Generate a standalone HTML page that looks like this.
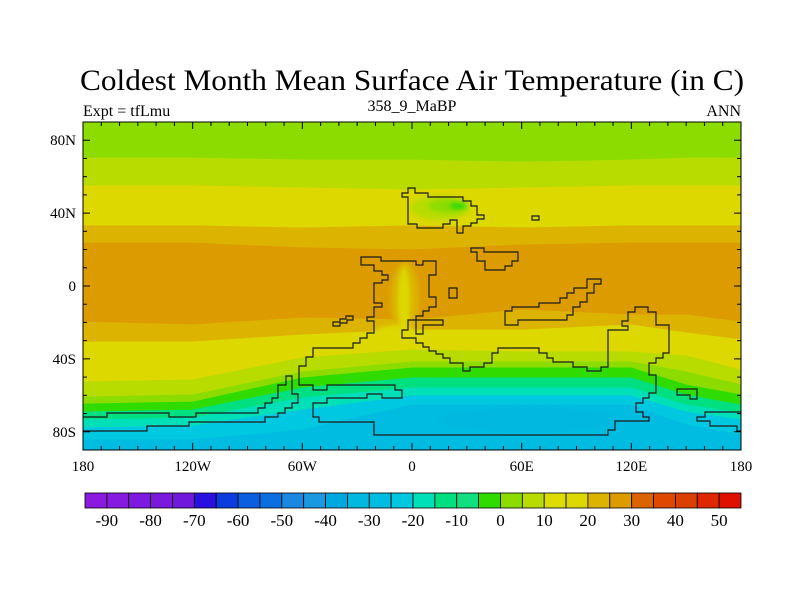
<!DOCTYPE html>
<html><head><meta charset="utf-8"><style>
html,body{margin:0;padding:0;background:#fff;}
svg{display:block;font-family:"Liberation Serif",serif;}
</style></head><body>
<svg id="chart" width="800" height="600" viewBox="0 0 800 600" xmlns="http://www.w3.org/2000/svg">
<defs>
<clipPath id="plotclip"><rect x="83" y="122" width="658" height="328"/></clipPath>
<filter id="soft" x="-20%" y="-20%" width="140%" height="140%"><feGaussianBlur stdDeviation="2"/></filter>
</defs>
<text x="412" y="90" font-size="30" text-anchor="middle" textLength="664" lengthAdjust="spacingAndGlyphs">Coldest Month Mean Surface Air Temperature (in C)</text>
<text x="83" y="116" font-size="16">Expt = tfLmu</text>
<text x="412" y="111" font-size="16" text-anchor="middle">358_9_MaBP</text>
<text x="741" y="116" font-size="16" text-anchor="end">ANN</text>
<g id="field" clip-path="url(#plotclip)"></g>
<g id="land" clip-path="url(#plotclip)"></g>
<rect x="83" y="122" width="658" height="328" fill="none" stroke="#000" stroke-width="1"/>
<g id="axes"></g>
<g id="cbar"></g>
</svg>
<script>
// ---- data ----
const anchorLons = [-180,-120,-60,0,60,120,150,180];
const bandColors = ['#8cdc00','#b8dc00','#dcd800','#dcb400','#dc9c00','#dcb400','#dcd800','#b8dc00','#8cdc00','#30dc00','#00e080','#00e0b8','#00c8e0','#00bce0'];
const boundaryLats = [
 [70.2,70.2,69.1,69.1,68,69.1,70.2,70.2],
 [54.9,54.9,53.8,52.7,53.8,54.9,54.9,54.9],
 [33,33,31.8,33,31.8,33,33,33],
 [23.5,23.5,20.9,19.8,22.5,23.5,23.5,23.5],
 [-19.8,-21.4,-17.6,-18.7,-13.2,-15.9,-15.9,-19.8],
 [-30.7,-30.7,-26.9,-24.2,-24.2,-21.4,-25.8,-29.6],
 [-52.7,-51.6,-39.5,-35.1,-36.2,-36.2,-38.4,-46.1],
 [-61,-59.8,-47.2,-41.7,-41.7,-41.7,-47.2,-54.3],
 [-64.8,-63.7,-50.5,-45,-45,-45,-54.3,-59.8],
 [-69.2,-68.1,-56,-50.5,-50.5,-50.5,-59.8,-65.4],
 [-73.5,-72.5,-61.5,-56,-56,-56,-65.4,-69.8],
 [-77.9,-76.8,-68.1,-60.4,-60.4,-60.4,-69.2,-73.5],
 [-84.5,-84.5,-79,-65.4,-65.4,-65.4,-76.3,-81.8]
];
const cbarLevels = [-95,-90,-85,-80,-75,-70,-65,-60,-55,-50,-45,-40,-35,-30,-25,-20,-15,-10,-5,0,5,10,15,20,25,30,35,40,45,50,55];
const cbarColors = ['#8a1ae0','#861ae0','#7d1ae0','#7a18dc','#7018dc','#2a10e0','#0a3ce0','#0a5ee0','#0a70e0','#1a88e0','#1a98e0','#00a8e0','#00b8e0','#00bce0','#00c8e0','#00e0b8','#00e080','#10e080','#30dc00','#8cdc00','#b8dc00','#dcdc00','#dcd800','#dcb400','#dc9c00','#dc6400','#e04800','#dc4000','#e02800','#e01000'];
const cbarLabels = [-90,-80,-70,-60,-50,-40,-30,-20,-10,0,10,20,30,40,50];
const xTickLabels = ['180','120W','60W','0','60E','120E','180'];
const yTickLats = [80,40,0,-40,-80];
const yTickLabels = ['80N','40N','0','40S','80S'];

// ---- axis functions ----
const X0=83,X1=741,Y0=122,Y1=450;
const xOf = lon => X0 + (lon+180)/360*(X1-X0);
const yOf = lat => Y0 + (90-lat)/180*(Y1-Y0);
const NS='http://www.w3.org/2000/svg';
function mk(tag, attrs, parent){const e=document.createElementNS(NS,tag);for(const k in attrs)e.setAttribute(k,attrs[k]);parent.appendChild(e);return e;}

// ---- field bands ----
const field=document.getElementById('field');
for(let i=0;i<bandColors.length;i++){
  const top = i===0 ? anchorLons.map(()=>90) : boundaryLats[i-1];
  const bot = i===bandColors.length-1 ? anchorLons.map(()=>-90) : boundaryLats[i];
  let pts=[];
  anchorLons.forEach((lo,j)=>pts.push(xOf(lo)+','+yOf(top[j])));
  for(let j=anchorLons.length-1;j>=0;j--) pts.push(xOf(anchorLons[j])+','+yOf(bot[j]));
  const p=mk('polygon',{points:pts.join(' '),fill:bandColors[i],stroke:bandColors[i],'stroke-width':1},field);
  
  
}
// local features (smoothed)
const blobs=mk('g',{filter:'url(#soft)'},field);


mk('ellipse',{cx:440,cy:208,rx:30,ry:12,fill:'#b8dc00'},blobs);
mk('ellipse',{cx:448,cy:206,rx:20,ry:7,fill:'#8cdc00'},blobs);
mk('ellipse',{cx:458,cy:206,rx:9,ry:4,fill:'#30dc00'},blobs);
mk('ellipse',{cx:405,cy:300,rx:14,ry:38,fill:'#dcb400'},blobs);
mk('ellipse',{cx:404,cy:300,rx:6,ry:33,fill:'#dcd800'},blobs);
mk('ellipse',{cx:395,cy:335,rx:22,ry:10,fill:'#dcd800'},blobs);
mk('ellipse',{cx:530,cy:420,rx:90,ry:12,fill:'#00b8e0'},blobs);

// ---- coastlines ----
const land=document.getElementById('land');
const coasts=[
 "402,193 408,193 408,188 415,188 415,193 428,193 428,197 463,197 463,201 471,201 471,206 477,206 477,215 484,215 484,219 477,219 477,223 471,223 471,226 463,226 463,233 457,233 457,220 450,220 450,224 443,224 443,228 417,228 417,224 408,224 408,197 402,197",
 "532,216 539,216 539,220 532,220",
 "471,248 484,248 484,252 518,252 518,261 512,261 512,266 505,266 505,270 485,270 485,261 477,261 477,252 471,252",
 "449,288 457,288 457,298 449,298",
 "361,257 381,257 381,261 416,261 416,265 423,265 423,261 436,261 436,275 429,275 429,297 436,297 436,307 429,307 429,311 423,311 423,316 416,316 416,320 408,320 408,330 402,330 402,338 416,338 416,343 423,343 423,347 429,347 429,351 436,351 436,354 443,354 443,358 450,358 450,363 463,363 463,371 470,371 470,367 484,367 484,363 492,363 492,353 498,353 498,348 539,348 539,353 547,353 547,358 553,358 553,362 573,362 573,367 587,367 587,371 601,371 601,367 608,367 608,330 628,330 628,326 622,326 622,321 628,321 628,312 635,312 635,307 648,307 648,312 656,312 656,325 669,325 669,353 663,353 663,358 656,358 656,363 649,363 649,375 656,375 656,393 649,393 649,398 643,398 643,403 636,403 636,412 643,412 643,417 649,417 649,421 615,421 615,430 608,430 608,435 374,435 374,422 319,422 319,417 313,417 313,403 327,403 327,398 367,398 367,394 382,394 382,398 402,398 402,390 395,390 395,385 327,385 327,390 313,390 313,385 299,385 299,366 306,366 306,357 313,357 313,348 353,348 353,343 360,343 360,338 367,338 367,333 374,333 374,321 367,321 367,317 374,317 374,307 382,307 382,303 374,303 374,283 382,283 382,280 388,280 388,275 382,275 382,271 374,271 374,265 361,265",
 "416,320 443,320 443,325 423,325 423,334 416,334",
 "505,311 512,311 512,307 539,307 539,303 560,303 560,298 567,298 567,293 574,293 574,288 587,288 587,279 601,279 601,284 594,284 594,293 587,293 587,302 580,302 580,307 573,307 573,315 567,315 567,320 518,320 518,325 505,325",
 "333,326 333,322 340,322 340,319 346,319 346,316 353,316 353,320 347,320 347,323 340,323 340,326",
 "80,417 107,417 107,413 169,413 169,417 196,417 196,413 258,413 258,408 265,408 265,403 272,403 272,398 278,398 278,385 286,385 286,376 292,376 292,394 298,394 298,403 292,403 292,408 285,408 285,413 278,413 278,417 265,417 265,422 189,422 189,426 147,426 147,431 80,431",
 "744,412 705,412 705,417 697,417 697,421 710,421 710,426 737,426 737,431 744,431",
 "677,389 697,389 697,399 690,399 690,395 677,395"
];
coasts.forEach((c,i)=>{
  const p=mk('polygon',{points:c,fill:'none',stroke:'#1a1a1a','stroke-width':1.2},land);
  
  
});

// ---- axes ----
const axes=document.getElementById('axes');
for(let lon=-180;lon<=180;lon+=10){
  const x=xOf(lon), major=(lon%60===0), L=major?7:4;
  mk('line',{x1:x,y1:Y0,x2:x,y2:Y0+L,stroke:'#000','stroke-width':1},axes);
  mk('line',{x1:x,y1:Y1,x2:x,y2:Y1-L,stroke:'#000','stroke-width':1},axes);
}
for(let lat=-90;lat<=90;lat+=10){
  const y=yOf(lat), major=(lat%40===0), L=major?7:4;
  mk('line',{x1:X0,y1:y,x2:X0+L,y2:y,stroke:'#000','stroke-width':1},axes);
  mk('line',{x1:X1,y1:y,x2:X1-L,y2:y,stroke:'#000','stroke-width':1},axes);
}
xTickLabels.forEach((t,i)=>{
  const e=mk('text',{x:xOf(-180+i*60),y:471,'font-size':15,'text-anchor':'middle'},axes);
  e.textContent=t;
  
  
});
yTickLats.forEach((lat,i)=>{
  const e=mk('text',{x:76,y:yOf(lat)+5,'font-size':15,'text-anchor':'end'},axes);
  e.textContent=yTickLabels[i];
  
  
});

// ---- colorbar ----
const cb=document.getElementById('cbar');
const CB0=85,CB1=741,CBy=493,CBh=15;
const cbX = v => CB0 + (v-cbarLevels[0])/(cbarLevels[cbarLevels.length-1]-cbarLevels[0])*(CB1-CB0);
cbarColors.forEach((c,i)=>{
  const r=mk('rect',{x:cbX(cbarLevels[i]),y:CBy,width:cbX(cbarLevels[i+1])-cbX(cbarLevels[i]),height:CBh,fill:c,stroke:'#000','stroke-width':0.8},cb);
  
  
});
cbarLabels.forEach(v=>{
  const e=mk('text',{x:cbX(v),y:526,'font-size':17,'text-anchor':'middle'},cb);
  e.textContent=String(v);
  
  
});
</script>
</body></html>
